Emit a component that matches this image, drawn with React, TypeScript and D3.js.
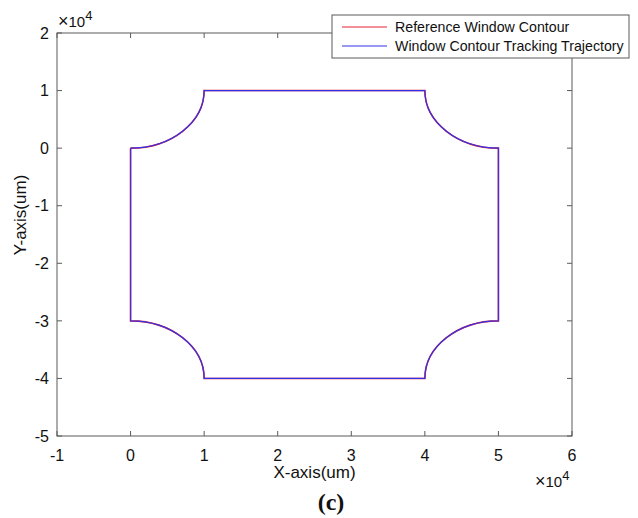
import React from "react";
import * as d3 from "d3";

// Axis ticks (in units of 1e4 um)
const xTicks = [-1, 0, 1, 2, 3, 4, 5, 6];
const yTicks = [-5, -4, -3, -2, -1, 0, 1, 2];

// Window contour: straight edges joined by concave quarter-circle corners (units of 1e4 um).
// Each segment: end point, arc radius (0 = straight line) and arc sweep flag.
const contourStart = [0, 0];
const contourSegments: { to: [number, number]; r: number; sweep: number }[] = [
  { to: [0, -3], r: 0, sweep: 1 },
  { to: [1, -4], r: 1, sweep: 1 },
  { to: [4, -4], r: 0, sweep: 1 },
  { to: [5, -3], r: 1, sweep: 1 },
  { to: [5, 0], r: 0, sweep: 1 },
  { to: [4, 1], r: 1, sweep: 1 },
  { to: [1, 1], r: 0, sweep: 1 },
  { to: [0, 0], r: 1, sweep: 1 },
];

const legendItems = [
  { label: "Reference Window Contour", color: "#e8212f" },
  { label: "Window Contour Tracking Trajectory", color: "#3232e8" },
];

const W = 638;
const H = 518;
const left = 57;
const right = 572;
const top = 33;
const bottom = 436;

export default function App() {
  const x = d3.scaleLinear().domain([-1, 6]).range([left, right]);
  const y = d3.scaleLinear().domain([-5, 2]).range([bottom, top]);
  const rxPx = Math.abs(x(1) - x(0));
  const ryPx = Math.abs(y(1) - y(0));

  let d = `M${x(contourStart[0])},${y(contourStart[1])}`;
  for (const s of contourSegments) {
    const px = x(s.to[0]);
    const py = y(s.to[1]);
    if (s.r === 0) d += `L${px},${py}`;
    else d += `A${rxPx * s.r},${ryPx * s.r} 0 0 ${s.sweep} ${px},${py}`;
  }

  const axisColor = "#5a5a5a";
  const font = "'Liberation Sans', Arial, Helvetica, sans-serif";
  const tl = 5;

  const legX = 332;
  const legY = 15;
  const legW = 297;
  const legH = 43;

  return (
    <svg width={W} height={H} style={{ position: "absolute", left: 0, top: 0, background: "#fff" }}>
      <rect width={W} height={H} fill="#fff" />
      {/* contour lines */}
      <path d={d} fill="none" stroke={legendItems[0].color} strokeWidth={1.6} />
      <path d={d} fill="none" stroke={legendItems[1].color} strokeWidth={1.2} />

      {/* axes box */}
      <rect x={left} y={top} width={right - left} height={bottom - top} fill="none" stroke={axisColor} strokeWidth={1} />
      {xTicks.map((t) => (
        <g key={"xt" + t}>
          <line x1={x(t)} x2={x(t)} y1={bottom} y2={bottom - tl} stroke={axisColor} />
          <line x1={x(t)} x2={x(t)} y1={top} y2={top + tl} stroke={axisColor} />
          <text x={x(t)} y={461} textAnchor="middle" fontFamily={font} fontSize={16} fill="#111">
            {t}
          </text>
        </g>
      ))}
      {yTicks.map((t) => (
        <g key={"yt" + t}>
          <line x1={left} x2={left + tl} y1={y(t)} y2={y(t)} stroke={axisColor} />
          <line x1={right} x2={right - tl} y1={y(t)} y2={y(t)} stroke={axisColor} />
          <text x={49} y={y(t)} dy="0.36em" textAnchor="end" fontFamily={font} fontSize={16} fill="#111">
            {t}
          </text>
        </g>
      ))}

      {/* exponent labels */}
      <text x={58} y={27} fontFamily={font} fontSize={15} fill="#111">
        <tspan fontSize={18}>×</tspan>10<tspan dy={-7} fontSize={13}>4</tspan>
      </text>
      <text x={535} y={487} fontFamily={font} fontSize={15} fill="#111">
        <tspan fontSize={18}>×</tspan>10<tspan dy={-7} fontSize={13}>4</tspan>
      </text>

      {/* axis titles */}
      <text x={(left + right) / 2} y={478} textAnchor="middle" fontFamily={font} fontSize={17} fill="#111">
        X-axis(um)
      </text>
      <text
        transform={`translate(26,215) rotate(-90)`}
        textAnchor="middle"
        fontFamily={font}
        fontSize={17}
        fill="#111"
      >
        Y-axis(um)
      </text>

      {/* legend */}
      <rect x={legX} y={legY} width={legW} height={legH} fill="#fff" stroke={axisColor} strokeWidth={1} />
      {legendItems.map((it, i) => (
        <g key={it.label}>
          <line x1={342} x2={387} y1={27 + i * 19} y2={27 + i * 19} stroke={it.color} strokeWidth={1} />
          <text x={395} y={27 + i * 19} dy="0.36em" fontFamily={font} fontSize={14.2} fill="#111">
            {it.label}
          </text>
        </g>
      ))}

      {/* panel tag */}
      <text x={331} y={510} textAnchor="middle" fontFamily="'Liberation Serif', 'Times New Roman', serif" fontWeight="bold" fontSize={24} fill="#111">
        (c)
      </text>
    </svg>
  );
}
